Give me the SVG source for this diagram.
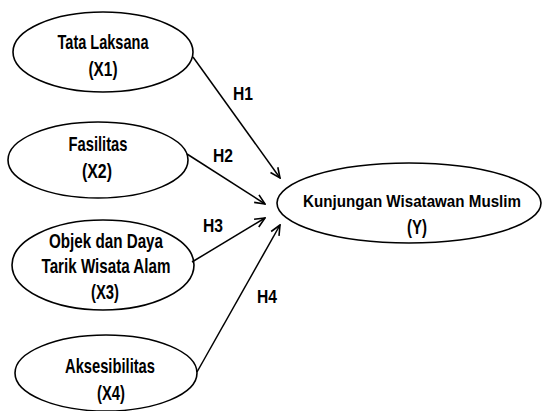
<svg xmlns="http://www.w3.org/2000/svg" width="542" height="411" viewBox="0 0 542 411">
<style>
.node ellipse{fill:#fff;stroke:#000;stroke-width:1.6}
text{font-family:"Liberation Sans",Arial,sans-serif;font-weight:bold;font-size:21px;fill:#000;text-anchor:middle}
.lbl{font-size:19px}
.wide{font-size:17px}
.conn line{stroke:#000;stroke-width:1.5;marker-end:url(#arr)}
</style>
<defs>
<marker id="arr" viewBox="0 0 12 12" refX="11" refY="6" markerWidth="12" markerHeight="12" markerUnits="userSpaceOnUse" orient="auto">
<path d="M1,1.5 L11,6 L1,10.5" fill="none" stroke="#000" stroke-width="1.6"/>
</marker>
</defs>
<rect width="542" height="411" fill="#fff"/>
<g id="x1" class="node">
<ellipse cx="103" cy="52" rx="90" ry="40"/>
<text x="103" y="49" textLength="91" lengthAdjust="spacingAndGlyphs">Tata Laksana</text>
<text x="103" y="76" textLength="29" lengthAdjust="spacingAndGlyphs">(X1)</text>
</g>
<g id="x2" class="node">
<ellipse cx="98" cy="160" rx="90" ry="38"/>
<text x="98" y="151" textLength="59" lengthAdjust="spacingAndGlyphs">Fasilitas</text>
<text x="97" y="178" textLength="30" lengthAdjust="spacingAndGlyphs">(X2)</text>
</g>
<g id="x3" class="node">
<ellipse cx="103" cy="265" rx="91" ry="45"/>
<text x="106" y="248" textLength="114" lengthAdjust="spacingAndGlyphs">Objek dan Daya</text>
<text x="106" y="273" textLength="129" lengthAdjust="spacingAndGlyphs">Tarik Wisata Alam</text>
<text x="105" y="299" textLength="28" lengthAdjust="spacingAndGlyphs">(X3)</text>
</g>
<g id="x4" class="node">
<ellipse cx="106" cy="373" rx="91" ry="38"/>
<text x="110" y="373" textLength="90" lengthAdjust="spacingAndGlyphs">Aksesibilitas</text>
<text x="111" y="400" textLength="28" lengthAdjust="spacingAndGlyphs">(X4)</text>
</g>
<g id="y" class="node">
<ellipse cx="409" cy="203" rx="132" ry="40"/>
<text class="wide" x="412" y="207" textLength="218" lengthAdjust="spacingAndGlyphs">Kunjungan Wisatawan Muslim</text>
<text x="417" y="234" textLength="20" lengthAdjust="spacingAndGlyphs">(Y)</text>
</g>
<g id="connectors" class="conn">
<line x1="193" y1="57" x2="280" y2="178"/>
<line x1="187" y1="154" x2="265" y2="204"/>
<line x1="192" y1="262" x2="265" y2="218"/>
<line x1="197" y1="372" x2="280" y2="225"/>
<text class="lbl" x="243" y="100" textLength="20" lengthAdjust="spacingAndGlyphs">H1</text>
<text class="lbl" x="223" y="162" textLength="20" lengthAdjust="spacingAndGlyphs">H2</text>
<text class="lbl" x="213" y="232" textLength="20" lengthAdjust="spacingAndGlyphs">H3</text>
<text class="lbl" x="267" y="303" textLength="20" lengthAdjust="spacingAndGlyphs">H4</text>
</g>
</svg>
